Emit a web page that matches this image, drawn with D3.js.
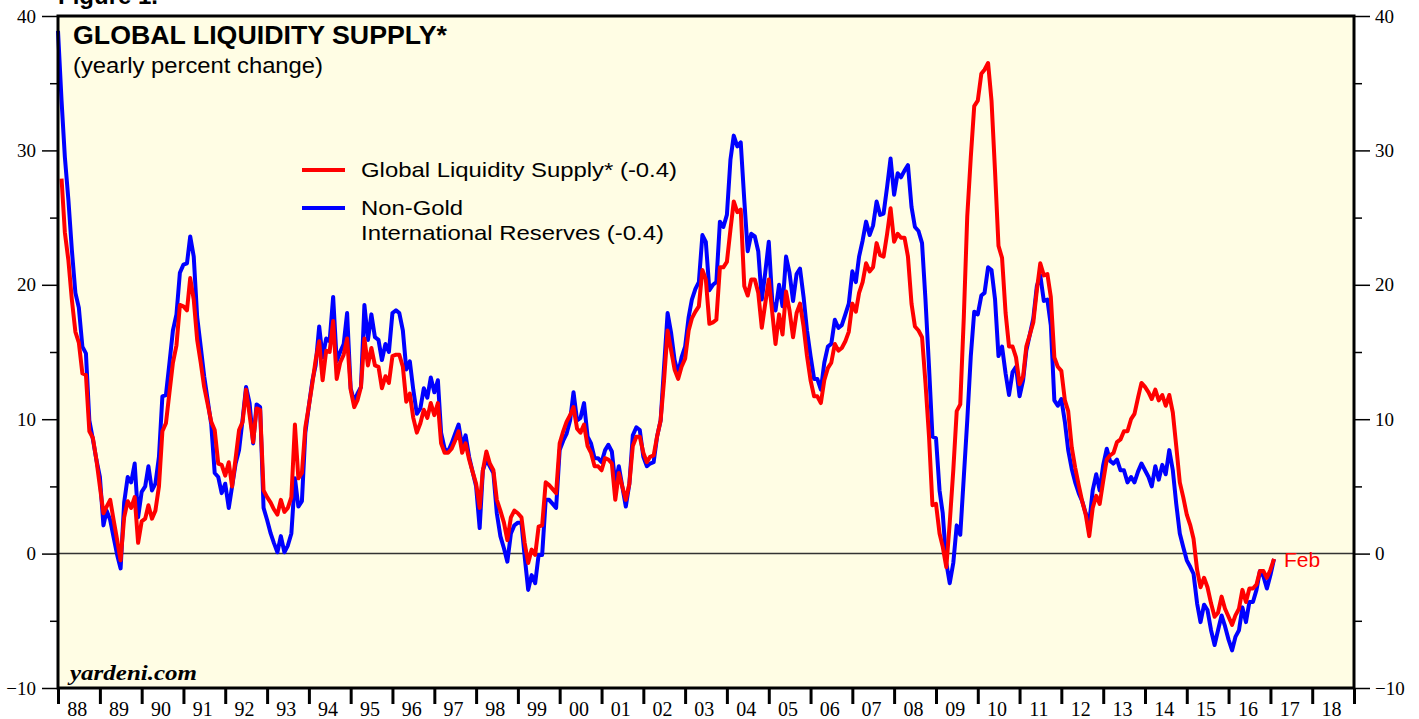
<!DOCTYPE html>
<html>
<head>
<meta charset="utf-8">
<script src="https://cdn.jsdelivr.net/npm/d3@7"></script>
<style>
  html, body { margin: 0; padding: 0; background: #fff; }
  svg { display: block; }
</style>
</head>
<body>
<div id="chart"></div>
<script>
// Monthly data, Jan 1988 .. Feb 2017 (yearly percent change)
const startMonth = new Date(1988, 0, 1);

const liquiditySupply = [
  null, 27.9, 23.9, 21.8, 18.9, 16.5, 15.7, 13.4, 13.3, 9.1, 8.6, 7.0,      // 88
  5.0, 3.0, 3.5, 4.0, 2.5, 1.0, -0.5, 2.7, 3.9, 3.4, 4.2, 0.8,              // 89
  2.4, 2.6, 3.6, 2.6, 3.2, 5.0, 9.1, 9.7, 12.0, 14.2, 15.5, 18.5,           // 90
  18.4, 18.1, 20.5, 18.9, 15.9, 14.2, 12.4, 11.1, 9.8, 9.2, 6.7, 6.6,       // 91
  5.8, 6.8, 5.0, 7.1, 9.2, 9.8, 12.2, 10.3, 8.3, 10.8, 10.7, 4.7,           // 92
  4.2, 3.8, 3.3, 2.9, 4.0, 3.1, 3.4, 4.2, 9.6, 5.6, 6.0, 9.4,               // 93
  11.0, 12.7, 14.4, 15.8, 12.9, 15.1, 15.0, 17.3, 13.0, 14.2, 14.8, 16.0,   // 94
  12.2, 10.9, 11.4, 12.4, 16.0, 14.0, 15.3, 14.0, 13.9, 12.3, 13.2, 12.7,   // 95
  14.7, 14.8, 14.8, 13.9, 11.3, 11.9, 10.1, 9.0, 9.7, 10.7, 10.1, 11.2,     // 96
  10.3, 11.2, 8.2, 7.5, 7.5, 7.8, 8.4, 9.1, 7.5, 8.2, 7.0, 6.1,             // 97
  5.2, 3.4, 6.2, 7.6, 6.7, 6.2, 4.0, 3.2, 2.3, 1.0, 2.7, 3.2,               // 98
  3.0, 2.7, 0.8, -0.7, 0.3, -0.1, 2.0, 2.1, 5.3, 5.1, 4.8, 4.5,             // 99
  8.2, 9.1, 9.8, 10.3, 10.9, 9.3, 9.0, 9.6, 8.0, 7.5, 6.5, 6.5,             // 00
  6.2, 7.1, 7.0, 6.7, 4.0, 6.0, 5.0, 4.0, 5.2, 8.0, 8.7, 8.7,               // 01
  7.5, 6.8, 7.2, 7.3, 8.7, 9.9, 12.9, 16.6, 15.1, 13.7, 13.0, 13.9,         // 02
  14.5, 16.6, 17.5, 18.0, 18.4, 21.1, 20.4, 17.1, 17.2, 17.4, 21.3, 21.3,   // 03
  21.7, 24.1, 26.2, 25.4, 25.6, 19.9, 19.2, 20.4, 20.4, 19.4, 16.8, 18.6,   // 04
  20.4, 17.9, 15.6, 17.8, 16.3, 19.5, 18.1, 16.1, 17.9, 18.6, 16.9, 14.7,   // 05
  12.9, 11.7, 11.7, 11.2, 12.9, 13.8, 14.2, 15.6, 15.1, 15.3, 15.8, 16.5,   // 06
  18.6, 18.0, 19.4, 20.2, 21.6, 21.0, 21.3, 23.1, 22.2, 22.1, 23.8, 25.7,   // 07
  23.2, 23.8, 23.5, 23.5, 22.1, 18.6, 16.9, 16.6, 16.1, 12.7, 8.7, 3.6,     // 08
  3.7, 1.5, 0.5, -1.0, 2.3, 6.2, 10.6, 11.1, 17.6, 25.1, 29.5, 33.3,        // 09
  33.7, 35.7, 36.0, 36.5, 33.7, 28.4, 22.9, 22.0, 17.9, 15.4, 15.4, 14.6,   // 10
  12.6, 13.2, 15.4, 16.3, 17.2, 19.6, 21.6, 20.7, 20.8, 19.1, 14.6, 13.9,   // 11
  13.6, 11.4, 10.6, 7.9, 6.4, 5.1, 3.9, 2.9, 1.3, 3.4, 4.3, 3.7,            // 12
  5.4, 7.0, 7.3, 7.5, 8.3, 8.5, 9.1, 9.1, 10.0, 10.4, 11.6, 12.7,           // 13
  12.4, 12.0, 11.5, 12.2, 11.4, 11.8, 11.0, 11.8, 10.5, 8.0, 5.3, 4.2,      // 14
  2.9, 2.1, 1.1, -1.2, -2.5, -1.8, -2.5, -3.7, -4.7, -4.4, -3.2, -4.1,      // 15
  -4.7, -5.3, -4.6, -4.1, -2.7, -3.6, -2.6, -2.6, -2.3, -1.3, -1.3, -1.8,   // 16
  -1.2, -0.4                                                                // 17
];

const nonGoldReserves = [
  38.9, 33.7, 29.5, 26.3, 22.6, 19.4, 18.3, 15.4, 14.9, 9.9, 8.5, 7.0,      // 88
  5.7, 2.1, 3.2, 2.5, 1.2, -0.1, -1.1, 3.8, 5.7, 5.3, 6.7, 2.7,             // 89
  4.6, 5.0, 6.5, 4.7, 5.2, 7.2, 11.7, 11.8, 14.2, 16.6, 17.8, 20.9,         // 90
  21.5, 21.6, 23.6, 22.1, 17.6, 15.4, 13.2, 11.4, 9.6, 6.0, 5.7, 4.5,       // 91
  5.2, 3.4, 5.0, 6.7, 7.7, 10.0, 12.4, 11.2, 8.2, 11.1, 10.9, 3.4,          // 92
  2.5, 1.5, 0.8, 0.1, 1.3, 0.1, 0.6, 1.5, 5.6, 3.5, 3.9, 9.0,               // 93
  11.0, 12.9, 14.0, 16.9, 14.6, 16.0, 15.8, 19.1, 14.3, 15.0, 15.6, 17.9,   // 94
  12.3, 11.3, 11.9, 12.4, 18.5, 15.9, 17.8, 16.1, 15.9, 14.4, 15.6, 15.0,   // 95
  17.9, 18.1, 17.9, 16.6, 13.7, 14.3, 12.2, 10.4, 10.8, 12.3, 11.6, 13.1,   // 96
  12.0, 12.9, 9.0, 7.8, 7.6, 8.2, 8.9, 9.6, 8.0, 8.8, 7.2, 6.1,             // 97
  5.0, 1.9, 6.2, 7.0, 6.5, 6.0, 3.0, 1.3, 0.4, -0.6, 1.5, 2.1,              // 98
  2.3, 2.3, -0.2, -2.7, -1.6, -2.2, -0.1, -0.1, 4.0, 4.0, 3.7, 3.4,         // 99
  7.7, 8.4, 8.9, 9.9, 12.0, 9.9, 10.1, 11.2, 8.7, 8.2, 7.1, 7.1,            // 00
  6.8, 7.7, 8.1, 7.6, 5.2, 6.5, 5.0, 3.5, 5.2, 8.8, 9.4, 9.2,               // 01
  7.2, 6.5, 6.7, 6.8, 8.7, 9.9, 13.9, 17.9, 16.4, 14.4, 13.4, 14.6,         // 02
  15.4, 17.6, 18.9, 19.7, 20.2, 23.7, 23.2, 19.6, 20.0, 20.2, 24.7, 24.3,   // 03
  25.2, 29.3, 31.1, 30.3, 30.6, 26.3, 22.5, 23.8, 23.6, 22.5, 18.9, 20.9,   // 04
  23.2, 18.7, 18.1, 20.0, 18.4, 22.1, 20.9, 18.8, 20.8, 21.2, 19.1, 16.6,   // 05
  14.7, 13.0, 13.0, 12.2, 14.2, 15.4, 15.6, 17.4, 16.8, 17.0, 17.8, 18.6,   // 06
  21.0, 20.2, 22.1, 23.3, 24.7, 23.7, 24.4, 26.2, 25.2, 25.3, 27.3, 29.4,   // 07
  26.7, 28.3, 28.0, 28.5, 28.9, 25.8, 24.3, 24.0, 23.1, 18.9, 13.9, 8.7,    // 08
  8.6, 4.7, 3.0, -0.7, -2.2, -0.7, 2.1, 1.4, 5.7, 9.9, 14.7, 18.0,          // 09
  17.8, 19.2, 19.4, 21.3, 21.1, 18.9, 14.7, 15.4, 13.4, 11.8, 13.5, 13.9,   // 10
  11.7, 12.9, 15.1, 16.3, 17.5, 19.9, 20.7, 18.8, 18.9, 17.0, 11.4, 11.0,   // 11
  11.5, 9.8, 7.7, 6.3, 5.3, 4.5, 3.9, 3.0, 2.3, 4.7, 5.9, 4.7,              // 12
  6.6, 7.8, 6.9, 6.7, 7.0, 6.2, 6.2, 5.3, 5.7, 5.3, 6.1, 6.7,               // 13
  6.2, 5.7, 5.0, 6.5, 5.5, 6.6, 5.9, 7.7, 6.2, 3.7, 1.5, 0.5,               // 14
  -0.5, -1.0, -1.5, -3.7, -5.1, -3.8, -4.2, -5.7, -6.8, -5.7, -4.6, -5.4,   // 15
  -6.4, -7.2, -6.2, -5.7, -4.0, -5.1, -3.6, -3.6, -2.7, -1.3, -1.7, -2.6,   // 16
  -1.6, -0.4                                                                // 17
];

const yTicks = [-10, 0, 10, 20, 30, 40];
const yMinorTicks = [-5, 5, 15, 25, 35];
const yearLabels = d3.range(1988, 2019);   // shown as 88 .. 18

const legendItems = [
  { color: '#ff0000', lines: [['Global Liquidity Supply* (-0.4)', 316]] },
  { color: '#0000ff', lines: [['Non-Gold', 102], ['International Reserves (-0.4)', 303]] }
];

// Layout
const width = 1419;
const height = 719;
const plot = { left: 58, right: 1354, top: 16, bottom: 688 };
const sans = 'Liberation Sans, Arial, Helvetica, sans-serif';
const serif = 'Liberation Serif, Times New Roman, serif';

const x = d3.scaleTime()
    .domain([new Date(1988, 0, 1), new Date(2019, 0, 1)])
    .range([plot.left, plot.right]);

const y = d3.scaleLinear()
    .domain([-10, 40])
    .range([plot.bottom, plot.top]);

const monthDate = (i) => d3.timeMonth.offset(startMonth, i);

const svg = d3.select('#chart')
    .append('svg')
    .attr('width', width)
    .attr('height', height);

// Plot background
svg.append('rect')
    .attr('x', plot.left)
    .attr('y', plot.top)
    .attr('width', plot.right - plot.left)
    .attr('height', plot.bottom - plot.top)
    .attr('fill', '#fffde4');

// Figure caption, cut by the top edge as in the source
svg.append('text')
    .attr('x', 58)
    .attr('y', 4)
    .attr('font-family', sans)
    .attr('font-weight', 'bold')
    .attr('font-size', 24)
    .attr('fill', '#000')
    .text('Figure 1.');

// Zero line
svg.append('line')
    .attr('x1', plot.left)
    .attr('x2', plot.right)
    .attr('y1', y(0))
    .attr('y2', y(0))
    .attr('stroke', '#333')
    .attr('stroke-width', 1.5);

// Series
const line = d3.line()
    .defined((d) => d != null)
    .x((d, i) => x(monthDate(i)))
    .y((d) => y(d));

svg.append('path')
    .datum(nonGoldReserves)
    .attr('fill', 'none')
    .attr('stroke', '#0000ff')
    .attr('stroke-width', 4)
    .attr('stroke-linejoin', 'round')
    .attr('d', line);

svg.append('path')
    .datum(liquiditySupply)
    .attr('fill', 'none')
    .attr('stroke', '#ff0000')
    .attr('stroke-width', 4)
    .attr('stroke-linejoin', 'round')
    .attr('d', line);

// Frame
svg.append('rect')
    .attr('x', plot.left)
    .attr('y', plot.top)
    .attr('width', plot.right - plot.left)
    .attr('height', plot.bottom - plot.top)
    .attr('fill', 'none')
    .attr('stroke', '#000')
    .attr('stroke-width', 3);

// Left / right value axes
function styleAxis(g) {
    g.select('.domain').remove();
    g.selectAll('.tick line').attr('stroke', '#000').attr('stroke-width', 1.5);
    g.selectAll('.tick text')
        .attr('font-family', serif)
        .attr('font-size', 19)
        .attr('fill', '#000');
}

svg.append('g')
    .attr('transform', `translate(${plot.left},0)`)
    .call(d3.axisLeft(y).tickValues(yTicks).tickSize(16).tickPadding(6).tickFormat(d3.format('d')))
    .call(styleAxis);

svg.append('g')
    .attr('transform', `translate(${plot.left},0)`)
    .call(d3.axisLeft(y).tickValues(yMinorTicks).tickSize(8).tickFormat(''))
    .call(styleAxis);

svg.append('g')
    .attr('transform', `translate(${plot.right},0)`)
    .call(d3.axisRight(y).tickValues(yTicks).tickSize(16).tickPadding(5).tickFormat(d3.format('d')))
    .call(styleAxis);

svg.append('g')
    .attr('transform', `translate(${plot.right},0)`)
    .call(d3.axisRight(y).tickValues(yMinorTicks).tickSize(8).tickFormat(''))
    .call(styleAxis);

// Year axis: ticks on year boundaries, labels centred in each year
svg.append('g')
    .attr('transform', `translate(0,${plot.bottom})`)
    .call(d3.axisBottom(x)
        .tickValues(d3.range(1988, 2020).map((yr) => new Date(yr, 0, 1)))
        .tickSize(16)
        .tickFormat(''))
    .call((g) => {
        g.select('.domain').remove();
        g.selectAll('.tick line').attr('stroke', '#000').attr('stroke-width', 3);
    });

svg.append('g')
    .attr('transform', `translate(-2,${plot.bottom})`)
    .call(d3.axisBottom(x)
        .tickValues(yearLabels.map((yr) => new Date(yr, 6, 1)))
        .tickSize(0)
        .tickPadding(14)
        .tickFormat(d3.timeFormat('%y')))
    .call((g) => {
        g.select('.domain').remove();
        g.selectAll('.tick text')
            .attr('font-family', serif)
            .attr('font-size', 20)
            .attr('fill', '#000');
    });

// Title
svg.append('text')
    .attr('x', 73)
    .attr('y', 44)
    .attr('font-family', sans)
    .attr('font-weight', 'bold')
    .attr('font-size', 25)
    .attr('textLength', 374)
    .attr('lengthAdjust', 'spacingAndGlyphs')
    .text('GLOBAL LIQUIDITY SUPPLY*');

svg.append('text')
    .attr('x', 73)
    .attr('y', 73)
    .attr('font-family', sans)
    .attr('font-size', 22)
    .attr('textLength', 250)
    .attr('lengthAdjust', 'spacingAndGlyphs')
    .text('(yearly percent change)');

// Legend
const legend = svg.append('g').attr('transform', 'translate(302,170)');
const legendRowY = [0, 38];

legendItems.forEach((item, k) => {
    const row = legend.append('g').attr('transform', `translate(0,${legendRowY[k]})`);
    row.append('line')
        .attr('x1', 0)
        .attr('x2', 43)
        .attr('stroke', item.color)
        .attr('stroke-width', 4);
    item.lines.forEach(([t, len], j) => {
        row.append('text')
            .attr('x', 59)
            .attr('y', 7 + j * 25)
            .attr('font-family', sans)
            .attr('font-size', 21)
            .attr('textLength', len)
            .attr('lengthAdjust', 'spacingAndGlyphs')
            .attr('fill', '#000')
            .text(t);
    });
});

// Last observation label
svg.append('text')
    .attr('x', x(monthDate(liquiditySupply.length - 1)) + 10)
    .attr('y', y(liquiditySupply[liquiditySupply.length - 1]) + 8)
    .attr('font-family', sans)
    .attr('font-size', 21)
    .attr('fill', '#ff0000')
    .text('Feb');

// Source
svg.append('text')
    .attr('x', 70)
    .attr('y', 680)
    .attr('font-family', serif)
    .attr('font-weight', 'bold')
    .attr('font-style', 'italic')
    .attr('font-size', 21)
    .attr('textLength', 127)
    .attr('lengthAdjust', 'spacingAndGlyphs')
    .text('yardeni.com');
</script>
</body>
</html>
